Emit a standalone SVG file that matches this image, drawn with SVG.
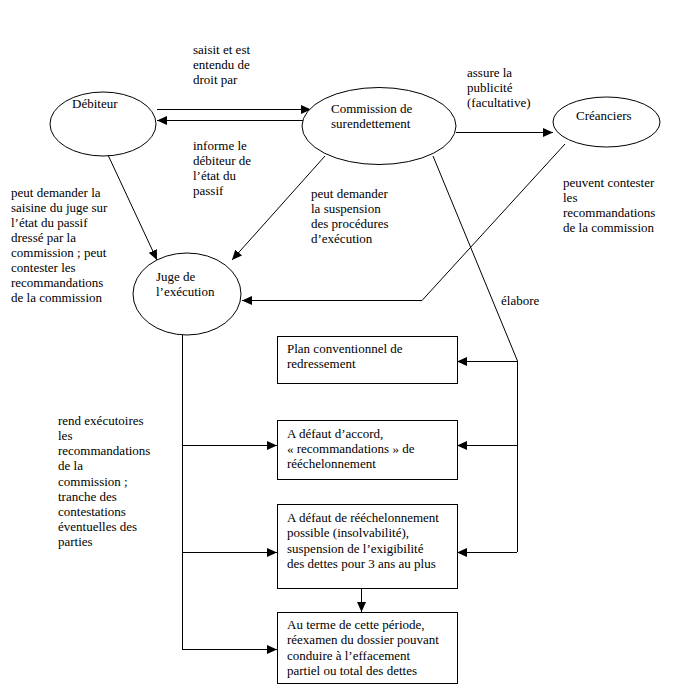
<svg xmlns="http://www.w3.org/2000/svg" width="673" height="685" viewBox="0 0 673 685">
<style>
text{font-family:"Liberation Serif","Times New Roman",serif;font-size:13px;fill:#000}
.n{fill:#fff;stroke:#000;stroke-width:1}
.c{fill:none;stroke:#000;stroke-width:1}
</style>
<defs>
<marker id="ah" markerUnits="userSpaceOnUse" markerWidth="11" markerHeight="9" refX="10" refY="4.5" orient="auto">
<path d="M0,0 L10,4.5 L0,9 z" fill="#000"/>
</marker>
</defs>
<rect width="673" height="685" fill="#fff"/>
<g id="connectors">
<path class="c" d="M157,109.5 H311" marker-end="url(#ah)"/>
<path class="c" d="M303,120.5 H157" marker-end="url(#ah)"/>
<path class="c" d="M456,132.5 H553" marker-end="url(#ah)"/>
<path class="c" d="M108,155 L157,260" marker-end="url(#ah)"/>
<path class="c" d="M325,156 L232,260" marker-end="url(#ah)"/>
<path class="c" d="M565,144 L422,300.5 H242" marker-end="url(#ah)"/>
<path class="c" d="M433,156 L517.5,361 V552"/>
<path class="c" d="M517,361.5 H457" marker-end="url(#ah)"/>
<path class="c" d="M517,445.5 H457" marker-end="url(#ah)"/>
<path class="c" d="M517,552.5 H457" marker-end="url(#ah)"/>
<path class="c" d="M182.5,335 V649.5"/>
<path class="c" d="M182,445.5 H277" marker-end="url(#ah)"/>
<path class="c" d="M182,552.5 H277" marker-end="url(#ah)"/>
<path class="c" d="M182,649.5 H277" marker-end="url(#ah)"/>
<path class="c" d="M361.5,588 V612" marker-end="url(#ah)"/>
</g>
<g id="labels">
<text x="193" y="54">saisit et est</text>
<text x="193" y="69">entendu de</text>
<text x="193" y="84">droit par</text>
<text x="193" y="150">informe le</text>
<text x="193" y="165">débiteur de</text>
<text x="193" y="180">l’état du</text>
<text x="193" y="195">passif</text>
<text x="467" y="77">assure la</text>
<text x="467" y="92">publicité</text>
<text x="467" y="107">(facultative)</text>
<text x="11" y="197">peut demander la</text>
<text x="11" y="212">saisine du juge sur</text>
<text x="11" y="227">l’état du passif</text>
<text x="11" y="242">dressé par la</text>
<text x="11" y="257">commission ; peut</text>
<text x="11" y="272">contester les</text>
<text x="11" y="287">recommandations</text>
<text x="11" y="302">de la commission</text>
<text x="311" y="198">peut demander</text>
<text x="311" y="213">la suspension</text>
<text x="311" y="228">des procédures</text>
<text x="311" y="243">d’exécution</text>
<text x="563" y="187">peuvent contester</text>
<text x="563" y="202">les</text>
<text x="563" y="217">recommandations</text>
<text x="563" y="232">de la commission</text>
<text x="501" y="305">élabore</text>
<text x="58" y="425">rend exécutoires</text>
<text x="58" y="440">les</text>
<text x="58" y="455">recommandations</text>
<text x="58" y="470">de la</text>
<text x="58" y="486">commission ;</text>
<text x="58" y="501">tranche des</text>
<text x="58" y="516">contestations</text>
<text x="58" y="531">éventuelles des</text>
<text x="58" y="546">parties</text>
</g>
<g id="debiteur">
<ellipse class="n" cx="103" cy="124" rx="53" ry="32"/>
<text x="72" y="108">Débiteur</text>
</g>
<g id="commission">
<ellipse class="n" cx="379" cy="126" rx="77" ry="38.5"/>
<text x="331" y="113">Commission de</text>
<text x="331" y="128">surendettement</text>
</g>
<g id="creanciers">
<ellipse class="n" cx="606.5" cy="122" rx="53.5" ry="25"/>
<text x="576" y="120">Créanciers</text>
</g>
<g id="juge">
<ellipse class="n" cx="187" cy="294" rx="54" ry="41"/>
<text x="156" y="281">Juge de</text>
<text x="156" y="296">l’exécution</text>
</g>
<g id="plan">
<rect class="n" x="277.5" y="336.5" width="180" height="47"/>
<text x="287" y="353">Plan conventionnel de</text>
<text x="287" y="368">redressement</text>
</g>
<g id="recommandations">
<rect class="n" x="277.5" y="420.5" width="180" height="59"/>
<text x="287" y="438">A défaut d’accord,</text>
<text x="287" y="453">« recommandations » de</text>
<text x="287" y="468">rééchelonnement</text>
</g>
<g id="suspension">
<rect class="n" x="277.5" y="504.5" width="180" height="84"/>
<text x="287" y="522">A défaut de rééchelonnement</text>
<text x="287" y="537">possible (insolvabilité),</text>
<text x="287" y="553">suspension de l’exigibilité</text>
<text x="287" y="568">des dettes pour 3 ans au plus</text>
</g>
<g id="reexamen">
<rect class="n" x="277.5" y="612.5" width="180" height="71"/>
<text x="287" y="629">Au terme de cette période,</text>
<text x="287" y="644">réexamen du dossier pouvant</text>
<text x="287" y="660">conduire à l’effacement</text>
<text x="287" y="675">partiel ou total des dettes</text>
</g>
</svg>
